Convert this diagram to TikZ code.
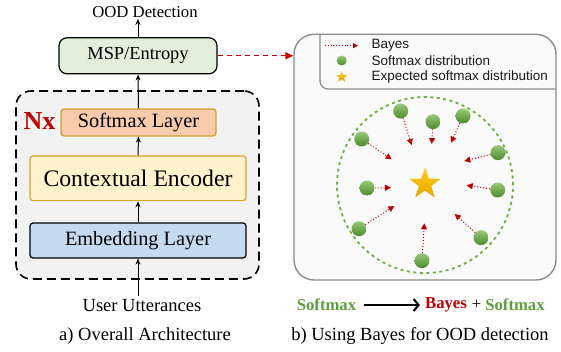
\documentclass[tikz,border=0pt]{standalone}
\usepackage{fontspec}
\setmainfont{Liberation Serif}
\setsansfont{Liberation Sans}
\usetikzlibrary{arrows.meta,shapes.geometric}
\definecolor{mspfill}{HTML}{E2F0D9}
\definecolor{smfill}{HTML}{F8CBAD}
\definecolor{smdraw}{HTML}{C9A227}
\definecolor{cefill}{HTML}{FFF2CC}
\definecolor{cedraw}{HTML}{D6A62A}
\definecolor{embfill}{HTML}{C5DAEE}
\definecolor{outerfill}{HTML}{F2F2F2}
\definecolor{panelgray}{HTML}{8C8C8C}
\definecolor{circgreen}{HTML}{70AD47}
\definecolor{balltop}{HTML}{98C97A}
\definecolor{ballbot}{HTML}{4C8A2C}
\definecolor{bayesred}{HTML}{C00000}
\definecolor{goldtop}{HTML}{FFD01A}
\definecolor{goldbot}{HTML}{E8A400}
\definecolor{txtgreen}{HTML}{5E9E3C}
\tikzset{
  x=1pt,y=-1pt,
  layerbox/.style={draw,line width=1.2pt,rounded corners=3pt,inner sep=0pt,align=center},
  flowarrow/.style={-{Stealth[length=6pt,width=5pt]},line width=1pt},
  ballnode/.style={circle,minimum size=15pt,inner sep=0pt,top color=balltop,bottom color=ballbot,draw=none},
  bayesarrow/.style={bayesred,dotted,line width=1pt,-{Triangle[length=6pt,width=6pt]}},
  starnode/.style={star,star points=5,star point ratio=2.5,inner sep=0pt,top color=goldtop,bottom color=goldbot,draw=none},
  serifbig/.style={font=\fontsize{18.5}{20}\selectfont},
  legtext/.style={font=\sffamily\fontsize{13.5}{15}\selectfont,anchor=west,text=black!90},
  boldlbl/.style={font=\bfseries\fontsize{16.7}{18}\selectfont},
}
\begin{document}
\begin{tikzpicture}
\useasboundingbox (0,0) rectangle (561,352);
% ---------- left: overall architecture ----------
\node[draw,dashed,dash pattern=on 9pt off 5pt,line width=1.6pt,fill=outerfill,rounded corners=15pt,
      minimum width=243pt,minimum height=188pt,inner sep=0pt] (outer) at (137.5,185) {};
\node[layerbox,fill=mspfill,rounded corners=8pt,minimum width=158pt,minimum height=36pt,
      font=\fontsize{18.4}{20}\selectfont] (msp) at (138,55.8) {MSP/Entropy};
\node[layerbox,fill=smfill,draw=smdraw,minimum width=155pt,minimum height=27pt,
      font=\fontsize{20.3}{22}\selectfont] (sm) at (138.5,122.5) {Softmax Layer};
\node[layerbox,fill=cefill,draw=cedraw,minimum width=216pt,minimum height=44.7pt,
      font=\fontsize{23.7}{25}\selectfont] (ce) at (138,178.3) {Contextual Encoder};
\node[layerbox,fill=embfill,minimum width=216pt,minimum height=35pt,
      font=\fontsize{20.3}{22}\selectfont] (emb) at (138,240.5) {Embedding Layer};
\node[text=bayesred,font=\bfseries\fontsize{26}{28}\selectfont,inner sep=0pt] (nx) at (39.5,121) {Nx};
\node[font=\fontsize{16.7}{18}\selectfont,inner sep=1pt] (ood) at (145,12) {OOD Detection};
\node[serifbig,inner sep=1pt] (user) at (142,306) {User Utterances};
\node[serifbig,inner sep=0pt] (capa) at (145,336.5) {a) Overall Architecture};
\coordinate (userin) at (138,296);
\draw[flowarrow] (userin) -- (emb.south);
\draw[flowarrow] (emb.north) -- (ce.south);
\draw[flowarrow] (ce.north) -- (sm.south);
\draw[flowarrow] (sm.north) -- (msp.south);
\draw[flowarrow] (msp.north) -- (msp.north |- ood.south);
% ---------- right: Bayes panel ----------
\node[draw=panelgray,line width=1.4pt,fill=white!98!black,rounded corners=20pt,
      minimum width=262pt,minimum height=245.7pt,inner sep=0pt] (panel) at (425,157.15) {};
\draw[bayesred,dashed,dash pattern=on 5pt off 4pt,line width=1.4pt,-{Triangle[length=8pt,width=7pt]}] (msp.east) -- (panel.west |- msp.east);
\draw[panelgray,line width=1.2pt,rounded corners=8pt] (320,34.3) -- (320,89) -- (555.3,89);
% legend
\coordinate (legA) at (325,45.7);
\coordinate (legB) at (358,45.7);
\draw[bayesarrow,line width=0.8pt,-{Triangle[length=5pt,width=5pt]}] (legA) -- (legB);
\node[legtext] (lbayes) at (368,45.5) {Bayes};
\node[ballnode,minimum size=10pt] (legball) at (341.7,60.5) {};
\node[legtext] (lsoft) at (368,61) {Softmax distribution};
\node[starnode,minimum size=12pt] (legstar) at (341.7,77) {};
\node[legtext] (lexp) at (368,77) {Expected softmax distribution};
% circle and balls
\node[circle,draw=circgreen,dashed,dash pattern=on 3pt off 3.5pt,line width=1.8pt,minimum size=176pt,inner sep=0pt] (ring) at (425,185) {};
\node[starnode,minimum size=33pt] (center) at (425,184) {};
\foreach \i/\bx/\by/\tx/\ty in {
  1/400.7/111/411.7/145,
  2/433/121.7/431.7/144,
  3/463/116/451/142.7,
  4/361.7/139/391.7/159.3,
  5/498/152.7/464.3/161,
  6/367/188/391/187.7,
  7/497.7/190/466.7/185.3,
  8/359/228.7/394.3/206,
  9/481/237.7/454.7/214,
  10/422/260.7/424.3/223.3}{
  \node[ballnode] (b\i) at (\bx,\by) {};
  \coordinate (t\i) at (\tx,\ty);
  \draw[bayesarrow] (b\i) -- (t\i);
}
% bottom formula
\node[boldlbl,text=txtgreen,inner sep=0pt] (fs1) at (326.5,305) {Softmax};
\node[boldlbl,text=bayesred,inner sep=0pt] (fb) at (446,305) {Bayes};
\node[font=\fontsize{16.7}{18}\selectfont,inner sep=0pt] (fplus) at (476.5,305) {+};
\node[boldlbl,text=txtgreen,inner sep=0pt] (fs2) at (515,305) {Softmax};
\draw[-{Straight Barb[length=5pt,width=12pt,line width=2pt]},line width=2pt] ([xshift=8pt]fs1.east) -- ([xshift=-5pt]fb.west);
\node[serifbig,inner sep=0pt] (capb) at (420,335.5) {b) Using Bayes for OOD detection};
\end{tikzpicture}
\end{document}
